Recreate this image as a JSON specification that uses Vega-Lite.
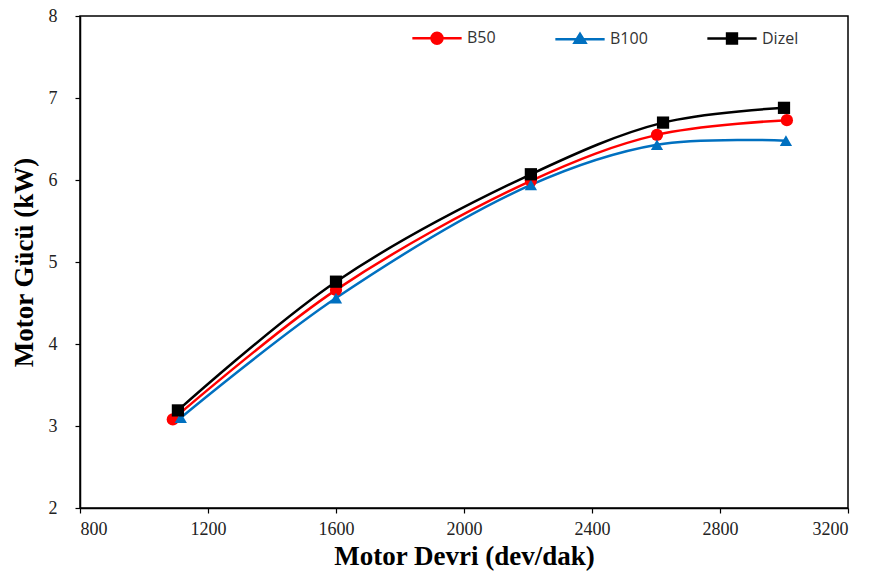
{
  "$schema": "https://vega.github.io/schema/vega-lite/v6.json",
  "width": 768,
  "height": 492,
  "autosize": "none",
  "padding": {"left": 80, "top": 16, "right": 28, "bottom": 73},
  "background": "white",
  "config": {
    "view": {"stroke": "black", "strokeWidth": 1.5},
    "axis": {
      "grid": false,
      "domainColor": "black",
      "domainWidth": 1.5,
      "tickColor": "black",
      "tickWidth": 1.2,
      "tickSize": 5,
      "labelFont": "Liberation Serif",
      "labelFontSize": 18,
      "labelColor": "#222",
      "titleFont": "Liberation Serif",
      "titleFontSize": 27,
      "titleFontWeight": "bold",
      "titleColor": "black"
    }
  },
  "data": {
    "values": [
      {"rpm": 1090, "power": 3.08, "fuel": "B50"},
      {"rpm": 1600, "power": 4.66, "fuel": "B50"},
      {"rpm": 2209, "power": 5.99, "fuel": "B50"},
      {"rpm": 2603, "power": 6.55, "fuel": "B50"},
      {"rpm": 3009, "power": 6.73, "fuel": "B50"},
      {"rpm": 1115, "power": 3.10, "fuel": "B100"},
      {"rpm": 1600, "power": 4.56, "fuel": "B100"},
      {"rpm": 2209, "power": 5.94, "fuel": "B100"},
      {"rpm": 2603, "power": 6.43, "fuel": "B100"},
      {"rpm": 3006, "power": 6.48, "fuel": "B100"},
      {"rpm": 1106, "power": 3.19, "fuel": "Dizel"},
      {"rpm": 1600, "power": 4.76, "fuel": "Dizel"},
      {"rpm": 2209, "power": 6.07, "fuel": "Dizel"},
      {"rpm": 2622, "power": 6.70, "fuel": "Dizel"},
      {"rpm": 3000, "power": 6.88, "fuel": "Dizel"}
    ]
  },
  "encoding": {
    "x": {
      "field": "rpm", "type": "quantitative",
      "scale": {"domain": [800, 3200], "nice": false, "zero": false},
      "axis": {"values": [800, 1200, 1600, 2000, 2400, 2800, 3200], "format": "d", "title": "Motor Devri (dev/dak)", "labelPadding": 7, "titlePadding": 5}
    },
    "y": {
      "field": "power", "type": "quantitative",
      "scale": {"domain": [2, 8], "nice": false, "zero": false},
      "axis": {"values": [2, 3, 4, 5, 6, 7, 8], "format": "d", "title": "Motor Gücü  (kW)", "labelPadding": 18, "titlePadding": 10}
    },
    "color": {
      "field": "fuel", "type": "nominal",
      "scale": {"domain": ["B50", "B100", "Dizel"], "range": ["#FF0000", "#0070C0", "#000000"]},
      "legend": {
        "title": null,
        "orient": "none",
        "legendX": 349,
        "legendY": 14,
        "direction": "horizontal",
        "columns": 3,
        "columnPadding": 54,
        "labelFont": "Open Sans",
        "labelFontSize": 16,
        "labelColor": "#333",
        "labelOffset": 22,
        "symbolSize": 120,
        "symbolStrokeWidth": 2.5,
        "encode": {
          "symbols": {
            "update": {
              "shape": {"signal": "datum.value === 'B50' ? 'M-4.5,0H4.5M1,0A1,1 0 1,1 -1,0A1,1 0 1,1 1,0Z' : datum.value === 'B100' ? 'M-4.5,0H4.5M1,0.6L0,-1L-1,0.6Z' : 'M-4.5,0H4.5M-0.9,-0.9H0.9V0.9H-0.9Z'"},
              "stroke": {"signal": "datum.value === 'B50' ? '#FF0000' : datum.value === 'B100' ? '#0070C0' : '#000000'"},
              "fill": {"signal": "datum.value === 'B50' ? '#FF0000' : datum.value === 'B100' ? '#0070C0' : '#000000'"},
              "strokeWidth": {"value": 2.5},
              "opacity": {"value": 1}
            }
          }
        }
      }
    }
  },
  "layer": [
    {
      "mark": {"type": "line", "interpolate": "catmull-rom", "strokeWidth": 2.5}
    },
    {
      "transform": [{"filter": "datum.fuel === 'B50'"}],
      "mark": {"type": "point", "filled": true, "opacity": 1, "shape": "circle", "size": 150}
    },
    {
      "transform": [{"filter": "datum.fuel === 'B100'"}],
      "mark": {"type": "point", "filled": true, "opacity": 1, "shape": "triangle-up", "size": 150}
    },
    {
      "transform": [{"filter": "datum.fuel === 'Dizel'"}],
      "mark": {"type": "point", "filled": true, "opacity": 1, "shape": "square", "size": 150}
    }
  ]
}
